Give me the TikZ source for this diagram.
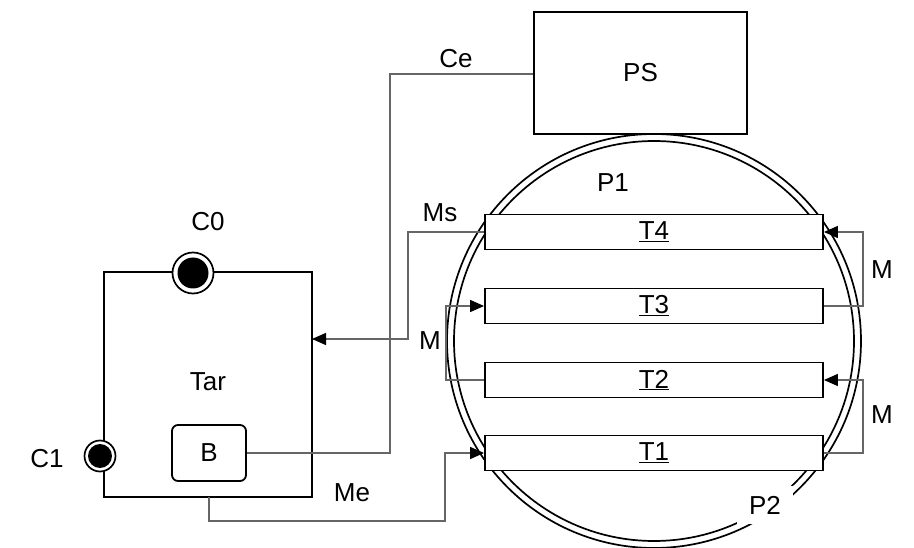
\documentclass[tikz,border=0pt]{standalone}
\usepackage{fontspec}
\setmainfont{Liberation Sans}
\usetikzlibrary{arrows.meta}
\begin{document}
\begin{tikzpicture}[x=1pt,y=-1pt,
  every node/.style={font=\fontsize{26}{30}\selectfont},
  boxx/.style={draw=black, line width=1.8pt, fill=white, inner sep=0pt},
  bar/.style={boxx, minimum width=338pt, minimum height=35pt},
  lab/.style={inner sep=1pt},
  conn/.style={draw=black!60, line width=1.3pt},
  arr/.style={conn, -{Triangle[length=14pt,width=12pt,fill=black,color=black]}},
  ring/.style={draw=black, line width=1.7pt}]
\useasboundingbox (0,0) rectangle (914,548);
% pipe rings
\draw[ring] (654,341) circle (207);
\draw[ring] (654,341) circle (200);
% boxes
\node[boxx, minimum width=213pt, minimum height=122pt] (PS) at (640.5,73) {PS};
\node[boxx, minimum width=208pt, minimum height=225pt] (Tar) at (208,384.5) {};
\node[lab] (tarl) at (208,382) {Tar};
\node[boxx, rounded corners=6pt, minimum width=74pt, minimum height=56pt] (B) at (209,453) {B};
\node[bar] (T4) at (654,232) {\underline{T4}};
\node[bar] (T3) at (654,306) {\underline{T3}};
\node[bar] (T2) at (654,380) {\underline{T2}};
\node[bar] (T1) at (654,453) {\underline{T1}};
% sensors
\node[circle, draw=black, line width=1.7pt, fill=white, minimum size=41pt, inner sep=0pt] (C0) at (193,273) {};
\fill (C0.center) circle (15.5);
\node[circle, draw=black, line width=1.7pt, fill=white, minimum size=31pt, inner sep=0pt] (C1) at (100,456) {};
\fill (C1.center) circle (12);
% coordinates
\coordinate (ce1) at (390,453);
\coordinate (ce2) at (390,74);
\coordinate (ms1) at (408,232);
\coordinate (ms2) at (408,339);
\coordinate (me0) at (209,497);
\coordinate (me1) at (209,521);
\coordinate (me2) at (445,521);
\coordinate (me3) at (445,453);
\coordinate (ml1) at (446,380);
\coordinate (ml2) at (446,306);
\coordinate (mr1) at (863,306);
\coordinate (mr2) at (863,232);
\coordinate (mr3) at (863,453);
\coordinate (mr4) at (863,380);
\coordinate (tarr) at (312,339);
% connectors
\draw[conn] (B.east) -- (ce1) -- (ce2) -- (PS.west |- ce2);
\draw[arr] (T4.west) -- (ms1) -- (ms2) -- (tarr);
\draw[arr] (me0) -- (me1) -- (me2) -- (me3) -- (T1.west);
\draw[arr] (T2.west) -- (ml1) -- (ml2) -- (T3.west);
\draw[arr] (T3.east) -- (mr1) -- (mr2) -- (T4.east);
\draw[arr] (T1.east) -- (mr3) -- (mr4) -- (T2.east);
% labels
\node[lab] (lC0) at (208,222) {C0};
\node[lab] (lC1) at (47,459) {C1};
\node[lab] (lCe) at (456,59) {Ce};
\node[lab] (lMs) at (440,213) {Ms};
\node[lab] (lP1) at (613,183) {P1};
\node[lab] (lM1) at (430,341) {M};
\node[lab] (lM2) at (882,270) {M};
\node[lab] (lM3) at (882,415) {M};
\node[lab] (lMe) at (352,493) {Me};
\node[fill=white, minimum width=56pt, minimum height=38pt, inner sep=0pt] (lP2) at (765,505) {P2};
\end{tikzpicture}
\end{document}
